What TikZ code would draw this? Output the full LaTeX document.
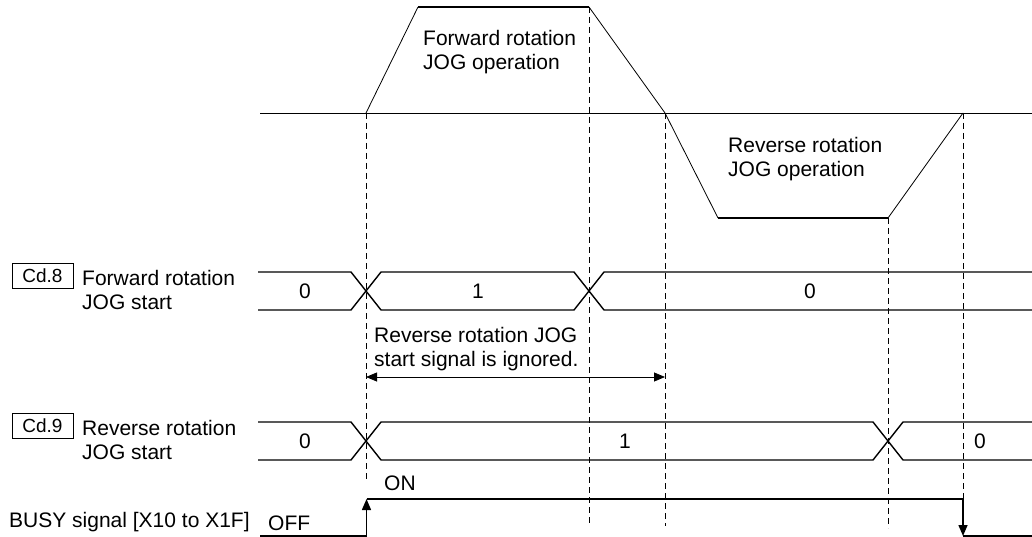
\documentclass[tikz,border=0pt]{standalone}
\usepackage{fontspec}
\setmainfont{Liberation Sans}
\usetikzlibrary{arrows.meta}
\begin{document}
\begin{tikzpicture}[x=1pt,y=-1pt,
  txt/.style={font=\fontsize{21}{24.5}\selectfont, inner sep=0pt},
  lbl/.style={txt, anchor=west, align=left},
  num/.style={txt},
  cdbox/.style={draw, line width=0.6pt, minimum width=61pt, minimum height=25pt, inner sep=0pt},
  cdtext/.style={inner sep=0pt, font=\fontsize{19}{21}\selectfont},
  sig/.style={line width=1.4pt},
  speed/.style={line width=0.8pt},
  flat/.style={line width=1.6pt},
  guide/.style={line width=0.7pt, dash pattern=on 6pt off 4pt},
  tri/.tip={Triangle[length=11pt,width=9pt]},
  tip/.style={-tri}
]
\useasboundingbox (0,0) rectangle (1032,537);

% speed axis
\draw[speed] (260,113) -- (1032,113);
% forward / reverse trapezoids
\coordinate (f0) at (366,113);
\coordinate (f1) at (418,7);
\coordinate (f2) at (589,7);
\coordinate (f3) at (665,113);
\coordinate (r1) at (718,218);
\coordinate (r2) at (888,218);
\coordinate (r3) at (963,113);
\draw[speed] (f0) -- (f1);
\draw[flat] (f1) -- (f2);
\draw[speed] (f2) -- (f3) -- (r1);
\draw[flat] (r1) -- (r2);
\draw[speed] (r2) -- (r3);

\node[lbl] (fwdop) at (423,52) {Forward rotation\\JOG operation};
\node[lbl] (revop) at (728,159) {Reverse rotation\\JOG operation};

% dashed guides
\draw[guide] (366,113) -- (366,480);
\draw[guide] (589,7) -- (589,526);
\draw[guide] (665,113) -- (665,526);
\draw[guide] (888,218) -- (888,528);
\draw[guide] (963,113) -- (963,505);

% Cd.8 signal
\draw[sig] (258,272) -- (351,272) -- (381,310) -- (574,310) -- (604,272) -- (1032,272);
\draw[sig] (258,310) -- (351,310) -- (381,272) -- (574,272) -- (604,310) -- (1032,310);
\node[num] (c8a) at (305,291) {0};
\node[num] (c8b) at (478,291) {1};
\node[num] (c8c) at (810,291) {0};

% Cd.9 signal
\draw[sig] (258,422) -- (351,422) -- (381,460) -- (873,460) -- (903,422) -- (1032,422);
\draw[sig] (258,460) -- (351,460) -- (381,422) -- (873,422) -- (903,460) -- (1032,460);
\node[num] (c9a) at (305,441) {0};
\node[num] (c9b) at (625,441) {1};
\node[num] (c9c) at (980,441) {0};

% ignored annotation
\node[lbl] (ign) at (374,349) {Reverse rotation JOG\\start signal is ignored.};
\coordinate (ia) at (366,377);
\coordinate (ib) at (665,377);
\draw[line width=0.8pt, tri-tri] (ia) -- (ib);

% left labels
\node[cdbox] (cd8) at (42.5,275.5) {};
\node[cdtext] (cd8t) at (cd8.center) {Cd.8};
\node[lbl] (fjs) at (82,290) {Forward rotation\\JOG start};
\node[cdbox] (cd9) at (42.5,425.5) {};
\node[cdtext] (cd9t) at (cd9.center) {Cd.9};
\node[lbl] (rjs) at (82,440) {Reverse rotation\\JOG start};
\node[lbl] (busy) at (9,522) {BUSY signal [X10 to X1F]};

% BUSY signal
\node[lbl] (off) at (268,523) {OFF};
\node[lbl] (on) at (384,483) {ON};
\coordinate (b0) at (260,536);
\coordinate (b1) at (366.5,536);
\coordinate (b2) at (366.5,499);
\coordinate (b3) at (963,499);
\coordinate (b4) at (963,536);
\coordinate (b5) at (1032,536);
\draw[sig] (b0) -- (b1);
\draw[sig, tip] (b1) -- (b2);
\draw[sig] (b2) -- (b3);
\draw[sig, tip] (b3) -- (b4);
\draw[sig] (b4) -- (b5);
\end{tikzpicture}
\end{document}
